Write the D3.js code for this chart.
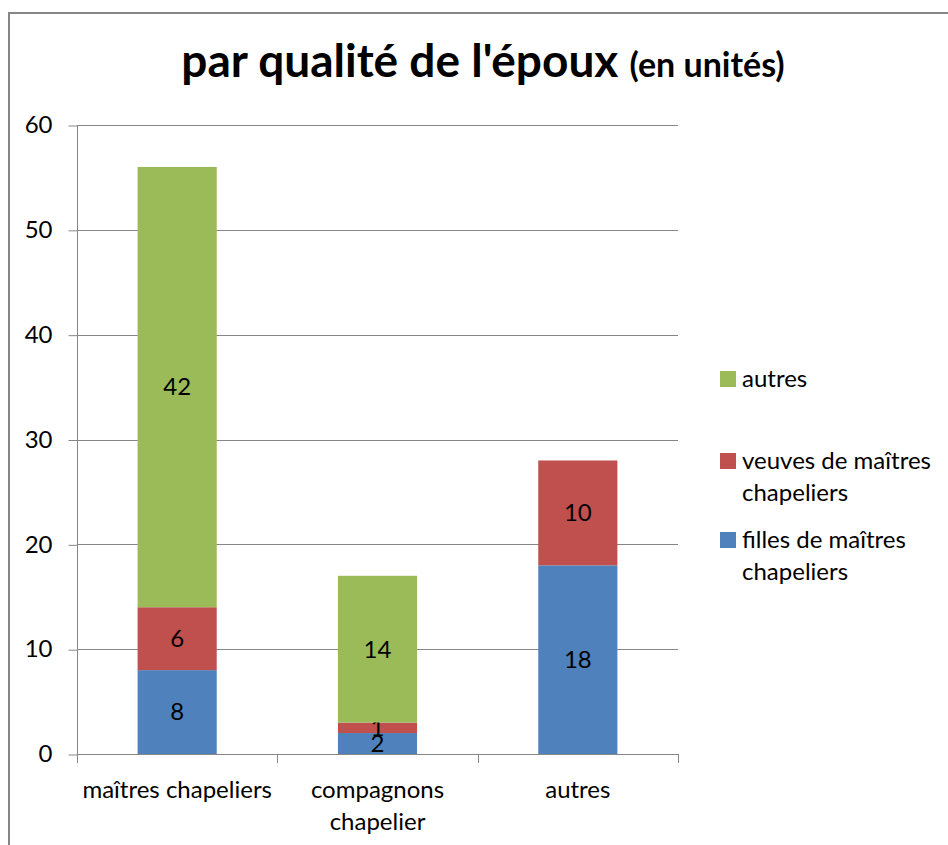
<!DOCTYPE html>
<html>
<head>
<meta charset="utf-8">
<script src="https://cdn.jsdelivr.net/npm/d3@7/dist/d3.min.js"></script>
<style>
  html, body { margin: 0; padding: 0; background: #fff; }
  svg { display: block; font-family: Lato, "Open Sans", sans-serif; }
</style>
</head>
<body>
<svg id="chart" width="948" height="845"></svg>
<script>
// Husband's status (categories) and the bride's origin (stacked series)
const categories = ["maîtres chapeliers", "compagnons chapelier", "autres"];
const categoryLines = [["maîtres chapeliers"], ["compagnons", "chapelier"], ["autres"]];
const seriesNames = ["filles de maîtres chapeliers", "veuves de maîtres chapeliers", "autres"];
const seriesLegendLines = [["filles de maîtres", "chapeliers"], ["veuves de maîtres", "chapeliers"], ["autres"]];
const filles = [8, 2, 18];
const veuves = [6, 1, 10];
const autres = [42, 14, 0];
const yTicks = [0, 10, 20, 30, 40, 50, 60];
const colors = ["#4F81BD", "#C0504D", "#9BBB59"];

const FONT = 24;
const svg = d3.select("#chart");

// chart frame
svg.append("path")
  .attr("d", "M9,845 V13 H948")
  .attr("fill", "none")
  .attr("stroke", "#868686")
  .attr("stroke-width", 2);

// title
const title = svg.append("text")
  .attr("x", 483).attr("y", 77)
  .attr("text-anchor", "middle")
  .attr("font-weight", "bold")
  .attr("fill", "#000");
title.append("tspan").attr("font-size", 46).text("par qualité de l'époux ");
title.append("tspan").attr("font-size", 34).text("(en unités)");

const plot = { left: 77, right: 678, top: 125, bottom: 754 };

const x = d3.scaleBand()
  .domain(categories)
  .range([plot.left, plot.right])
  .paddingInner(0.605)
  .paddingOuter(0.3025);

const y = d3.scaleLinear()
  .domain([0, 60])
  .range([plot.bottom, plot.top]);

// gridlines
svg.append("g")
  .selectAll("line")
  .data(yTicks.filter(d => d > 0))
  .join("line")
  .attr("x1", plot.left).attr("x2", plot.right)
  .attr("y1", d => Math.round(y(d)) + 0.5).attr("y2", d => Math.round(y(d)) + 0.5)
  .attr("stroke", "#868686").attr("stroke-width", 1);

// stacked data
const rows = categories.map((c, i) => ({ cat: c, s0: filles[i], s1: veuves[i], s2: autres[i] }));
const stack = d3.stack().keys(["s0", "s1", "s2"])(rows);

const layers = svg.append("g")
  .selectAll("g")
  .data(stack)
  .join("g")
  .attr("fill", (d, i) => colors[i]);

layers.selectAll("rect")
  .data(d => d.filter(p => p[1] - p[0] > 0))
  .join("rect")
  .attr("x", p => x(p.data.cat))
  .attr("width", x.bandwidth())
  .attr("y", p => y(p[1]))
  .attr("height", p => y(p[0]) - y(p[1]));

// value labels
layers.selectAll("text")
  .data(d => d.filter(p => p[1] - p[0] > 0))
  .join("text")
  .attr("x", p => x(p.data.cat) + x.bandwidth() / 2)
  .attr("y", p => y((p[0] + p[1]) / 2))
  .attr("dy", "0.35em")
  .attr("text-anchor", "middle")
  .attr("font-size", FONT)
  .attr("fill", "#000")
  .text(p => p[1] - p[0]);

// y axis
const yAxis = svg.append("g")
  .attr("transform", `translate(${plot.left + 0.5},0)`)
  .call(d3.axisLeft(y).tickValues(yTicks).tickSize(9).tickPadding(16));
yAxis.select(".domain").attr("stroke", "#868686").attr("d", `M0,${plot.top}V${plot.bottom + 0.5}`);
yAxis.selectAll(".tick line").attr("stroke", "#868686").attr("transform", "translate(0,0.5)");
yAxis.selectAll(".tick text")
  .attr("font-size", FONT).attr("font-family", "Lato, sans-serif").attr("fill", "#000");

// x axis
const xg = svg.append("g");
xg.append("line")
  .attr("x1", plot.left).attr("x2", plot.right)
  .attr("y1", plot.bottom + 0.5).attr("y2", plot.bottom + 0.5)
  .attr("stroke", "#868686");
const bounds = d3.range(categories.length + 1).map(i => plot.left + i * (plot.right - plot.left) / categories.length);
xg.selectAll("line.tick")
  .data(bounds)
  .join("line")
  .attr("class", "tick")
  .attr("x1", d => Math.round(d) + 0.5).attr("x2", d => Math.round(d) + 0.5)
  .attr("y1", plot.bottom).attr("y2", plot.bottom + 9)
  .attr("stroke", "#868686");

const xl = xg.selectAll("text.cat")
  .data(categories)
  .join("text")
  .attr("class", "cat")
  .attr("x", d => x(d) + x.bandwidth() / 2)
  .attr("y", 798)
  .attr("text-anchor", "middle")
  .attr("font-size", FONT)
  .attr("fill", "#000");
xl.selectAll("tspan")
  .data((d, i) => categoryLines[i])
  .join("tspan")
  .attr("x", function () { return d3.select(this.parentNode).attr("x"); })
  .attr("dy", (d, j) => j === 0 ? 0 : 32)
  .text(d => d);

// legend (top to bottom: last series first)
const legendOrder = [2, 1, 0];
const legendY = [379, 461, 540];
const legend = svg.append("g");
legendOrder.forEach((si, k) => {
  const g = legend.append("g").attr("transform", `translate(720,${legendY[k]})`);
  g.append("rect").attr("x", 0).attr("y", -8).attr("width", 16).attr("height", 16).attr("fill", colors[si]);
  const t = g.append("text").attr("x", 22).attr("y", 8).attr("font-size", FONT).attr("fill", "#000");
  t.selectAll("tspan")
    .data(seriesLegendLines[si])
    .join("tspan")
    .attr("x", 22)
    .attr("dy", (d, j) => j === 0 ? 0 : 32)
    .text(d => d);
});
</script>
</body>
</html>
